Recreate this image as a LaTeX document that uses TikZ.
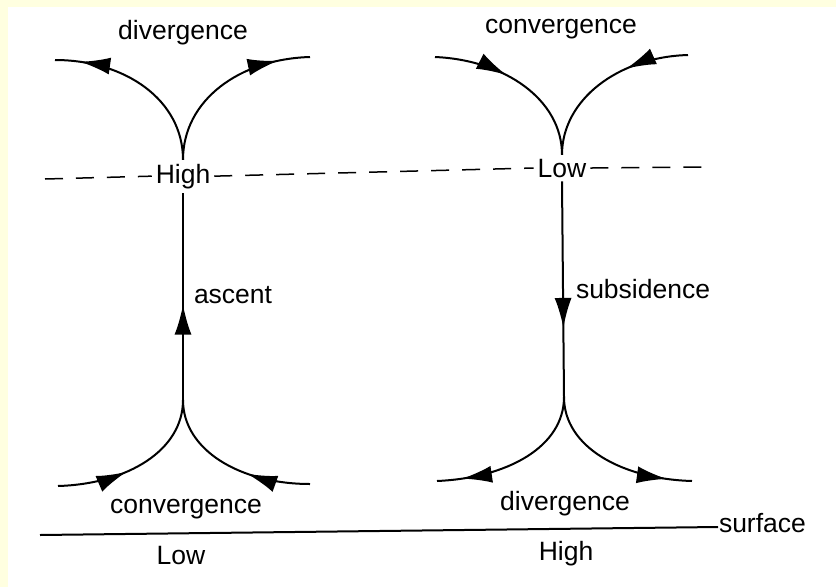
\documentclass[tikz,border=0pt]{standalone}
\usepackage{fontspec}
\setmainfont{Liberation Sans}
\usepackage{tikz}
\usetikzlibrary{arrows.meta,decorations.markings,positioning}
\usepackage{xcolor}
\definecolor{paper}{HTML}{FFFFE0}

\tikzset{
  >={Latex[length=30pt,width=17pt]},
  flow/.style={line width=2pt},
  midtip/.style={postaction={decorate},decoration={markings,
      mark=at position #1 with {\arrow{>}}}},
  lbl/.style={font=\fontsize{26.5}{30}\selectfont,inner sep=3pt},
}

\begin{document}
\begin{tikzpicture}[x=1pt,y=-1pt,flow]
  \fill[paper] (0,0) rectangle (836,587);
  \fill[white] (8,7) rectangle (836,587);
  \useasboundingbox (0,0) rectangle (836,587);

  % pressure labels on the dashed level and at the surface
  \node[lbl,anchor=base] (H1) at (183,183) {High};
  \node[lbl,anchor=base] (L2) at (562,177) {Low};
  \node[lbl,anchor=base] (L1) at (181,564) {Low};
  \node[lbl,anchor=base] (H2) at (566,560) {High};

  % flow labels
  \node[lbl,anchor=base] (divtop)  at (183,39)  {divergence};
  \node[lbl,anchor=base] (contop)  at (561,33)  {convergence};
  \node[lbl,anchor=base] (conbot)  at (186,513) {convergence};
  \node[lbl,anchor=base] (divbot)  at (565,510) {divergence};
  \node[lbl,anchor=base west,inner sep=0pt] (asc) at (193,303) {ascent};
  \node[lbl,anchor=base west,inner sep=0pt] (sub) at (575,298) {subsidence};
  \node[lbl,anchor=base west,inner sep=0pt] (surf) at (718,532) {surface};

  % junctions and free ends
  \coordinate (J1) at (183,400);
  \coordinate (J2) at (564,397);
  \coordinate (a1) at (55,60);   \coordinate (a2) at (310,57);
  \coordinate (b1) at (435,57);  \coordinate (b2) at (688,55);
  \coordinate (c1) at (58,486);  \coordinate (c2) at (310,484);
  \coordinate (d1) at (437,481); \coordinate (d2) at (692,481);
  \coordinate (lv0) at (45,179); \coordinate (lv1) at (710,167);
  \coordinate (sf0) at (40,535);

  % dashed upper level
  \draw[line width=1.5pt,dash pattern=on 18pt off 13pt] (lv0) -- (H1.west);
  \draw[line width=1.5pt,dash pattern=on 18pt off 13pt] (H1.east) -- (L2.west);
  \draw[line width=1.5pt,dash pattern=on 18pt off 13pt] (L2.east) -- (lv1);

  % surface
  \draw (sf0) -- ([yshift=5pt]surf.base west);

  % rising column under the surface Low
  \draw[midtip=0.46] (J1) -- (H1.south);
  \draw[midtip=0.86] (H1.north) .. controls +(0,-60) and +(70,0) .. (a1);
  \draw[midtip=0.82] (H1.north) .. controls +(0,-60) and +(-70,2) .. (a2);
  \draw[midtip=0.42] (c1) .. controls +(70,-2) and +(0,50) .. (J1);
  \draw[midtip=0.38] (c2) .. controls +(-70,0) and +(0,50) .. (J1);

  % sinking column over the surface High
  \draw[midtip=0.68] (L2.south) -- (J2);
  \draw[midtip=0.42] (b1) .. controls +(70,3) and +(0,-55) .. (L2.north);
  \draw[midtip=0.36] (b2) .. controls +(-70,2) and +(0,-55) .. (L2.north);
  \draw[midtip=0.85] (J2) .. controls +(0,50) and +(70,-3) .. (d1);
  \draw[midtip=0.85] (J2) .. controls +(0,50) and +(-70,-2) .. (d2);
\end{tikzpicture}
\end{document}
